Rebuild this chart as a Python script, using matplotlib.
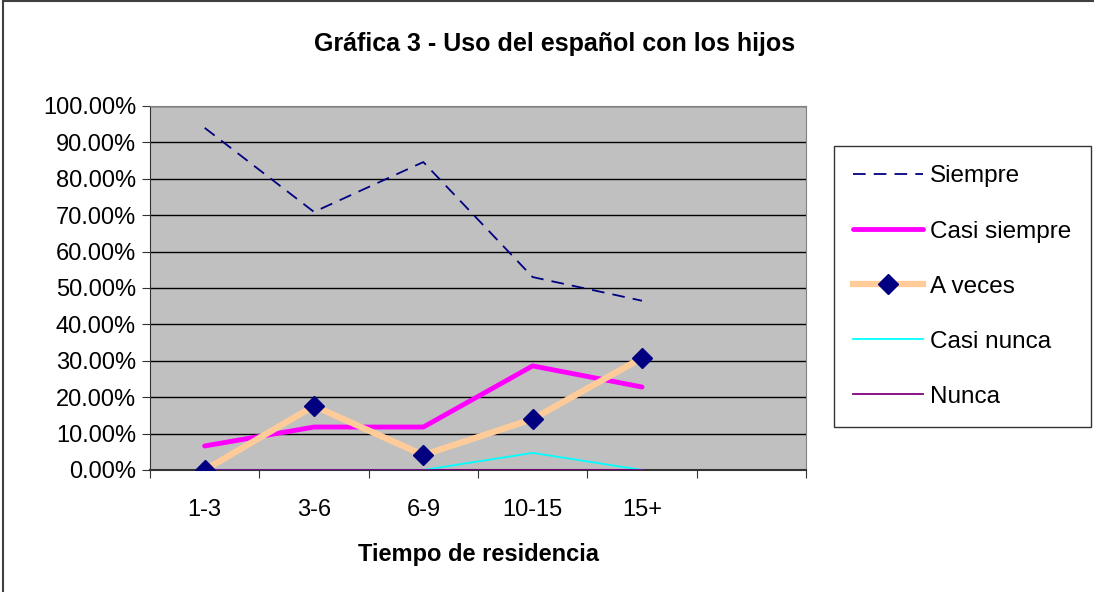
import matplotlib.pyplot as plt
from matplotlib.lines import Line2D
import numpy as np

plt.rcParams['font.family'] = ['Liberation Sans', 'DejaVu Sans']

categories = ['1-3', '3-6', '6-9', '10-15', '15+', '']
siempre = [94.0, 70.9, 84.6, 53.0, 46.5]
casi_siempre = [6.6, 11.8, 11.8, 28.6, 22.8]
a_veces = [0.0, 17.6, 4.1, 14.0, 30.8]
casi_nunca = [0.0, 0.0, 0.0, 4.7, 0.0]
nunca = [0.0, 0.0, 0.0, 0.0, 0.0]

fig = plt.figure(figsize=(10.94, 5.92), dpi=100)
ax = fig.add_axes([150 / 1094, 1 - 470 / 592, 656 / 1094, 364 / 592])
ax.set_facecolor('#C0C0C0')

x = np.arange(len(siempre))
ax.plot(x, siempre, color='#000080', lw=1.3, dashes=(7, 4.5), label='Siempre', zorder=3)
ax.plot(x, casi_siempre, color='#FF00FF', lw=3.5, solid_capstyle='round', label='Casi siempre', zorder=3)
ax.plot(x, a_veces, color='#FFCC99', lw=4.5, marker='D', markersize=10,
        markerfacecolor='#000080', markeredgecolor='#000080', label='A veces', zorder=4)
ax.plot(x, casi_nunca, color='#00FFFF', lw=1.3, label='Casi nunca', zorder=3)
ax.plot(x, nunca, color='#800080', lw=1.3, label='Nunca', zorder=3)

ax.set_xlim(-0.5, len(categories) - 0.5)
ax.set_ylim(0, 100)
ax.set_yticks(np.arange(0, 101, 10))
ax.set_yticklabels([f'{v:.2f}%' for v in np.arange(0, 101, 10)], fontsize=17)
ax.yaxis.grid(True, color='black', lw=1)
ax.set_axisbelow(True)

ax.set_xticks(np.arange(-0.5, len(categories), 1))
ax.set_xticklabels([])
ax.set_xticks(np.arange(len(categories)), minor=True)
ax.set_xticklabels(categories, minor=True, fontsize=17)
ax.tick_params(axis='x', which='minor', length=0, pad=21)
ax.tick_params(axis='x', which='major', length=6, direction='out', color='#333333')
ax.tick_params(axis='y', length=6, direction='out', color='#333333', pad=4)

for s in ['top', 'right']:
    ax.spines[s].set_color('#808080')
ax.spines['left'].set_color('#333333')
ax.spines['bottom'].set_color('#333333')
ax.spines['bottom'].set_linewidth(1.5)

ax.set_xlabel('Tiempo de residencia', fontsize=17, fontweight='bold', labelpad=16)
fig.text(555 / 1094, 1 - 44 / 592, 'Gráfica 3 - Uso del español con los hijos',
         ha='center', va='center', fontsize=18, fontweight='bold')

leg = fig.legend(loc='upper left', bbox_to_anchor=(834 / 1094, 1 - 146 / 592),
                 fontsize=17.5, frameon=True, fancybox=False, edgecolor='black',
                 handlelength=2.85, handletextpad=0.3, labelspacing=1.36,
                 borderpad=0.8, borderaxespad=0)
leg.get_frame().set_linewidth(1.0)

# chart area border (only left and top edges show in the picture)
fig.add_artist(Line2D([3 / 1094, 3 / 1094], [0, 1], transform=fig.transFigure, color='#404040', lw=1.5))
fig.add_artist(Line2D([3 / 1094, 1], [1 - 1 / 592, 1 - 1 / 592], transform=fig.transFigure, color='#404040', lw=1.5))

fig.savefig('out.png', dpi=100)
